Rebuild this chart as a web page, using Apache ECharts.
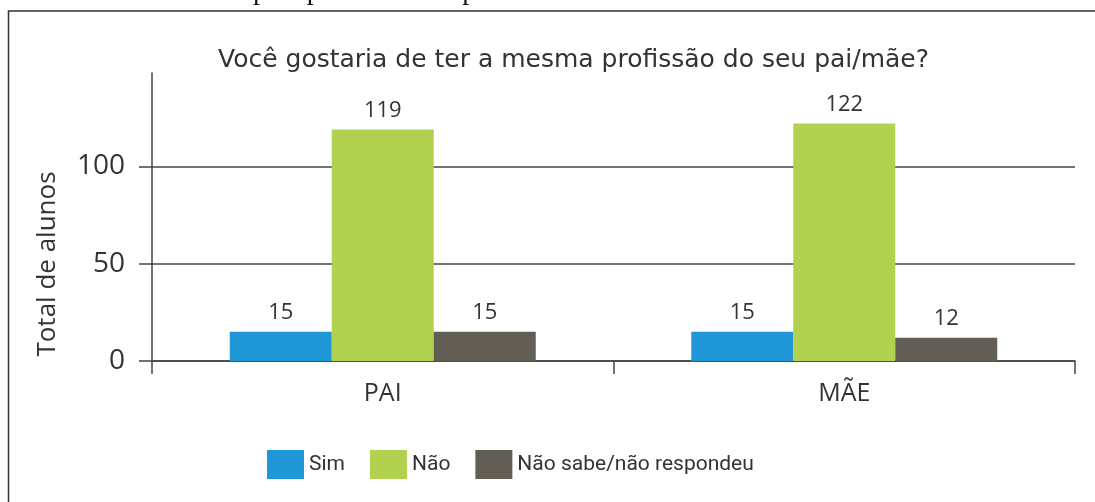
<!DOCTYPE html>
<html>
<head>
<meta charset="utf-8">
<script src="https://cdn.jsdelivr.net/npm/echarts@6/dist/echarts.min.js"></script>
<style>html,body{margin:0;padding:0;background:#fff;}#c{width:1095px;height:502px;}</style>
</head>
<body>
<div id="c"></div>
<script>
const categories = ['PAI', 'MÃE'];
const seriesNames = ['Sim', 'Não', 'Não sabe/não respondeu'];
const simValues = [15, 15];
const naoValues = [119, 122];
const nsValues = [15, 12];
const yTicks = [0, 50, 100];
const yMax = 148;
const colors = ['#1f96d6', '#b3d150', '#625e56'];

const chart = echarts.init(document.getElementById('c'));
const labelStyle = { show: true, position: 'top', distance: 8, color: '#333', fontSize: 22, fontFamily: 'Open Sans' };
function mk(name, data, color) {
  return { name, type: 'bar', data, barWidth: 102, barGap: '0%', itemStyle: { color }, label: labelStyle, emphasis: { disabled: true } };
}
chart.setOption({
  animation: false,
  title: { text: 'Você gostaria de ter a mesma profissão do seu pai/mãe?', left: 218, top: 48, padding: 0,
    textStyle: { fontFamily: 'DejaVu Sans', fontWeight: 'normal', fontSize: 25, color: '#333' } },
  grid: { left: 152, right: 20, top: 73, bottom: 141, containLabel: false },
  legend: { left: 262, top: 445, itemWidth: 37, itemHeight: 29, itemGap: 25, icon: 'rect',
    textStyle: { fontFamily: 'Roboto', fontSize: 21, color: '#333' },
    data: seriesNames },
  xAxis: { type: 'category', data: categories,
    axisLine: { lineStyle: { color: '#444', width: 1.5 } },
    axisTick: { show: true, length: 13, lineStyle: { color: '#444', width: 1.5 } },
    axisLabel: { margin: 20, color: '#333', fontSize: 25, fontFamily: 'Open Sans' } },
  yAxis: { type: 'value', min: 0, max: yMax,
    axisLine: { show: true, lineStyle: { color: '#444', width: 1.5 } },
    axisTick: { show: true, length: 13, customValues: yTicks, lineStyle: { color: '#444', width: 1.5 } },
    axisLabel: { margin: 27, customValues: yTicks, color: '#333', fontSize: 28, fontFamily: 'Open Sans' },
    splitLine: { show: true, lineStyle: { color: '#444', width: 1.5 } } },
  graphic: [
    { type: 'rect', shape: { x: 8.5, y: 11, width: 1200, height: 600 }, style: { fill: 'none', stroke: '#333', lineWidth: 1.5 }, silent: true },
    { type: 'text', x: 12, y: 6, style: { text: 'Gráfico 3 – Interesse pela profissão dos pais', font: '28px "Liberation Serif"', fill: '#111', verticalAlign: 'bottom' }, silent: true },
    { type: 'text', x: 48, y: 264, rotation: Math.PI / 2, style: { text: 'Total de alunos', font: '26px "Open Sans"', fill: '#333', align: 'center', verticalAlign: 'middle' }, silent: true }
  ],
  series: [mk(seriesNames[0], simValues, colors[0]), mk(seriesNames[1], naoValues, colors[1]), mk(seriesNames[2], nsValues, colors[2])]
});
</script>
</body>
</html>
